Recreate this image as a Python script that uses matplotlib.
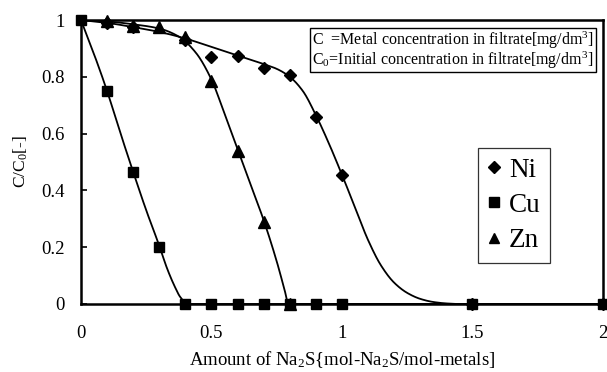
import numpy as np
import matplotlib
matplotlib.use("Agg")
import matplotlib.pyplot as plt
from matplotlib.lines import Line2D

plt.rcParams['font.family'] = ['Liberation Serif', 'DejaVu Serif']
plt.rcParams['mathtext.fontset'] = 'custom'
plt.rcParams['mathtext.rm'] = 'Liberation Serif'
plt.rcParams['mathtext.it'] = 'Liberation Serif:italic'

# ---- data ----
ni_x = [0.1, 0.2, 0.4, 0.5, 0.6, 0.7, 0.8, 0.9, 1.0, 1.5, 2.0]
ni_y = [0.99, 0.975, 0.93, 0.87, 0.875, 0.83, 0.805, 0.66, 0.455, 0.0, 0.0]

cu_x = [0.0, 0.1, 0.2, 0.3, 0.4, 0.5, 0.6, 0.7, 0.8, 0.9, 1.0, 1.5, 2.0]
cu_y = [1.0, 0.75, 0.465, 0.2, 0.0, 0.0, 0.0, 0.0, 0.0, 0.0, 0.0, 0.0, 0.0]

zn_x = [0.1, 0.2, 0.3, 0.4, 0.5, 0.6, 0.7, 0.8]
zn_y = [0.995, 0.98, 0.975, 0.94, 0.785, 0.54, 0.29, 0.0]

# fitted curves
ni_curve_x = [0.0, 0.1, 0.2, 0.3, 0.4, 0.5, 0.6, 0.7, 0.75, 0.8, 0.85, 0.9, 0.95, 1.0,
              1.05, 1.1, 1.15, 1.2, 1.25, 1.3, 1.35, 1.4, 1.45, 2.0]
ni_curve_y = [1.0, 0.99, 0.975, 0.958, 0.935, 0.905, 0.875, 0.845, 0.828, 0.8, 0.75, 0.665, 0.565, 0.455,
              0.34, 0.225, 0.135, 0.075, 0.039, 0.018, 0.007, 0.002, 0.0, 0.0]

cu_curve_x = [0.0, 0.05, 0.1, 0.15, 0.2, 0.25, 0.3, 0.33, 0.36, 0.38, 0.4, 0.42, 2.0]
cu_curve_y = [1.0, 0.88, 0.75, 0.605, 0.465, 0.33, 0.205, 0.125, 0.06, 0.025, 0.006, 0.0, 0.0]

zn_curve_x = [0.0, 0.1, 0.2, 0.3, 0.376, 0.44, 0.5, 0.55, 0.6, 0.65, 0.7, 0.75, 0.78, 0.795, 2.0]
zn_curve_y = [1.0, 0.995, 0.985, 0.97, 0.941, 0.885, 0.79, 0.67, 0.545, 0.42, 0.295, 0.15, 0.05, 0.0, 0.0]

x_ticks = [0, 0.5, 1, 1.5, 2]
x_ticklabels = ["0", "0.5", "1", "1.5", "2"]
y_ticks = [0, 0.2, 0.4, 0.6, 0.8, 1.0]
y_ticklabels = ["0", "0.2", "0.4", "0.6", "0.8", "1"]


def pchip(xk, yk, xs):
    xk = np.asarray(xk, float)
    yk = np.asarray(yk, float)
    h = np.diff(xk)
    d = np.diff(yk) / h
    n = len(xk)
    m = np.zeros(n)
    for i in range(1, n - 1):
        if d[i - 1] * d[i] <= 0:
            m[i] = 0.0
        else:
            w1 = 2 * h[i] + h[i - 1]
            w2 = h[i] + 2 * h[i - 1]
            m[i] = (w1 + w2) / (w1 / d[i - 1] + w2 / d[i])
    m[0] = d[0]
    m[-1] = d[-1]
    idx = np.clip(np.searchsorted(xk, xs) - 1, 0, n - 2)
    t = (xs - xk[idx]) / h[idx]
    h00 = 2 * t**3 - 3 * t**2 + 1
    h10 = t**3 - 2 * t**2 + t
    h01 = -2 * t**3 + 3 * t**2
    h11 = t**3 - t**2
    return h00 * yk[idx] + h10 * h[idx] * m[idx] + h01 * yk[idx + 1] + h11 * h[idx] * m[idx + 1]


fig = plt.figure(figsize=(6.07, 3.72), dpi=100)
ax = fig.add_axes([0.1334, 0.1828, 0.86, 0.7634])

xs = np.linspace(0, 2, 1200)
for cx, cy in [(ni_curve_x, ni_curve_y), (cu_curve_x, cu_curve_y), (zn_curve_x, zn_curve_y)]:
    ax.plot(xs, pchip(cx, cy, xs), color='black', lw=1.3, zorder=2)

ax.plot(ni_x, ni_y, linestyle='none', marker='D', ms=6.5, color='black', clip_on=False, zorder=3)
ax.plot(cu_x, cu_y, linestyle='none', marker='s', ms=7.5, color='black', clip_on=False, zorder=3)
ax.plot(zn_x, zn_y, linestyle='none', marker='^', ms=8, color='black', clip_on=False, zorder=3)

ax.set_xlim(0, 2)
ax.set_ylim(0, 1)
ax.set_xticks(x_ticks)
ax.set_xticklabels(x_ticklabels, fontsize=13.5)
ax.set_yticks(y_ticks)
ax.set_yticklabels(y_ticklabels, fontsize=13.5)
ax.tick_params(axis='x', length=0, pad=15)
ax.tick_params(axis='y', direction='in', length=4, width=1.2, pad=12)
for s in ax.spines.values():
    s.set_linewidth(1.8)
    s.set_zorder(1)

ax.set_xlabel("Amount of Na$_2$S{mol-Na$_2$S/mol-metals]", fontsize=13.5, labelpad=5)
ax.set_ylabel("C/C$_0$[-]", fontsize=12.5, labelpad=8)

ax.text(0.4425, 0.966,
        "C  =Metal concentration in filtrate[mg/dm$^3$]\nC$_0$=Initial concentration in filtrate[mg/dm$^3$]",
        transform=ax.transAxes, ha='left', va='top', fontsize=11.5, linespacing=0.9,
        bbox=dict(boxstyle='square,pad=0.1', facecolor='white', edgecolor='black', linewidth=1.0),
        zorder=5)

handles = [
    Line2D([], [], linestyle='none', marker='D', ms=6, color='black'),
    Line2D([], [], linestyle='none', marker='s', ms=7, color='black'),
    Line2D([], [], linestyle='none', marker='^', ms=7.5, color='black'),
]
leg = ax.legend(handles, ["Ni", "Cu", "Zn"], loc='upper left', bbox_to_anchor=(0.76, 0.549),
                prop={'family': 'Liberation Serif', 'size': 19.5}, frameon=True, fancybox=False,
                edgecolor='black', handlelength=0.5, handletextpad=0.3, labelspacing=0.38,
                borderpad=0.35, borderaxespad=0.0)
leg.get_frame().set_linewidth(0.9)

fig.savefig("out.png", dpi=100)
